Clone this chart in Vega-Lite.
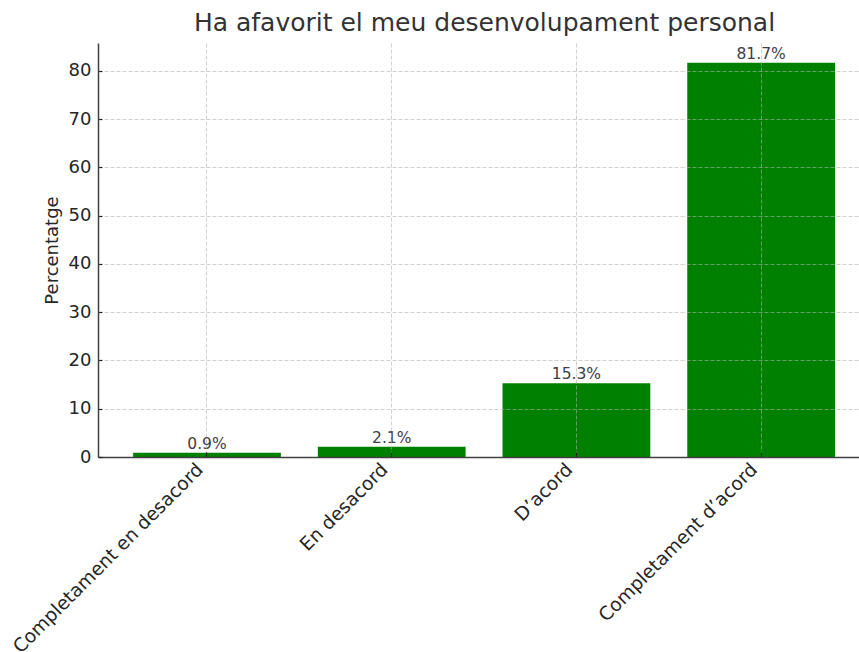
{
  "$schema": "https://vega.github.io/schema/vega-lite/v6.json",
  "autosize": "none",
  "padding": {"left": 98, "top": 43, "right": 0, "bottom": 195},
  "width": 761,
  "height": 414,
  "background": "white",
  "title": {
    "text": "Ha afavorit el meu desenvolupament personal",
    "font": "DejaVu Sans",
    "fontSize": 25,
    "fontWeight": "normal",
    "color": "#333333",
    "anchor": "middle",
    "dx": 6,
    "offset": 7
  },
  "config": {
    "view": {"stroke": null},
    "font": "DejaVu Sans"
  },
  "data": {
    "values": [
      {"categoria": "Completament en desacord", "percentatge": 0.9, "etiqueta": "0.9%"},
      {"categoria": "En desacord", "percentatge": 2.1, "etiqueta": "2.1%"},
      {"categoria": "D’acord", "percentatge": 15.3, "etiqueta": "15.3%"},
      {"categoria": "Completament d’acord", "percentatge": 81.7, "etiqueta": "81.7%"}
    ]
  },
  "encoding": {
    "x": {
      "field": "categoria",
      "type": "nominal",
      "sort": null,
      "scale": {"paddingInner": 0.2, "paddingOuter": 0.16, "align": 0.594},
      "axis": {
        "title": null,
        "labelAngle": -45,
        "labelAlign": "right",
        "labelBaseline": "middle",
        "labelFontSize": 18.7,
        "labelColor": "#262626",
        "labelPadding": 14,
        "labelOffset": -7,
        "labelLimit": 0,
        "labelOverlap": false,
        "tickColor": "#262626",
        "tickSize": -5,
        "tickWidth": 1.2,
        "bandPosition": 0.5,
        "domainColor": "#404040",
        "domainWidth": 1.5,
        "grid": true,
        "gridColor": "#b0b0b0",
        "gridDash": [4, 2],
        "gridOpacity": 0.6,
        "zindex": 1
      }
    },
    "y": {
      "field": "percentatge",
      "type": "quantitative",
      "scale": {"domain": [0, 85.785], "nice": false, "zero": true},
      "axis": {
        "title": "Percentatge",
        "titleFontSize": 18,
        "titleFontWeight": "normal",
        "titleColor": "#262626",
        "titlePadding": 7,
        "values": [0, 10, 20, 30, 40, 50, 60, 70, 80],
        "labelFontSize": 18,
        "labelColor": "#262626",
        "labelPadding": 11,
        "tickColor": "#262626",
        "tickSize": -4,
        "tickWidth": 1.2,
        "domainColor": "#404040",
        "domainWidth": 1.5,
        "grid": true,
        "gridColor": "#b0b0b0",
        "gridDash": [4, 2],
        "gridOpacity": 0.6,
        "zindex": 1
      }
    }
  },
  "layer": [
    {"mark": {"type": "bar", "color": "#008000"}},
    {
      "mark": {"type": "text", "baseline": "bottom", "dy": -1, "fontSize": 15.5, "color": "#404040"},
      "encoding": {"text": {"field": "etiqueta"}}
    }
  ]
}
